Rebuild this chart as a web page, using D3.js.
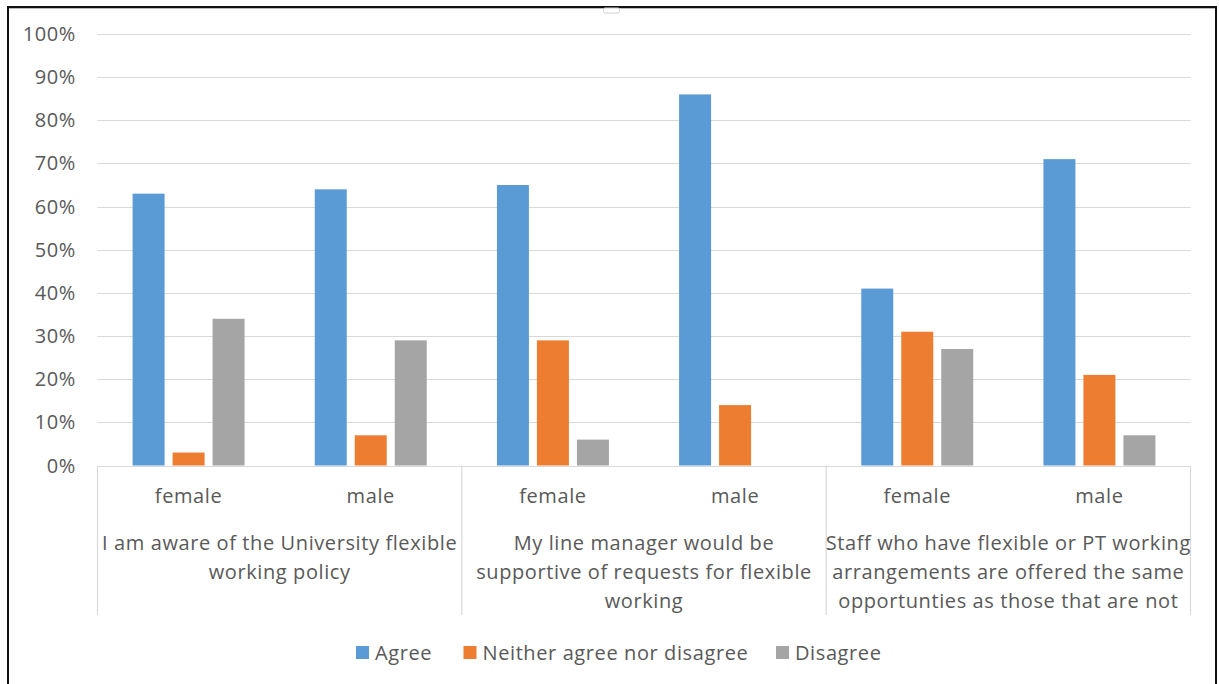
<!DOCTYPE html>
<html>
<head>
<meta charset="utf-8">
<script src="https://cdn.jsdelivr.net/npm/d3@7"></script>
<style>
  html, body { margin: 0; padding: 0; background: #fff; }
  svg { display: block; }
  text { font-family: "Open Sans", "Liberation Sans", sans-serif; fill: #595959; font-size: 20px; letter-spacing: 0.6px; }
</style>
</head>
<body>
<svg id="chart" width="1219" height="684"></svg>
<script>
// ---- data ----
const groups = [
  ["I am aware of the University flexible", "working policy"],
  ["My line manager would be", "supportive of requests for flexible", "working"],
  ["Staff who have flexible or PT working", "arrangements are offered the same", "opportunties as those that are not"]
];
const subcats = ["female", "male"];
const seriesNames = ["Agree", "Neither agree nor disagree", "Disagree"];
const agree    = [63, 64, 65, 86, 41, 71];
const neither  = [3, 7, 29, 14, 31, 21];
const disagree = [34, 29, 6, 0, 27, 7];
const yTicks = [0, 10, 20, 30, 40, 50, 60, 70, 80, 90, 100];
const colors = ["#5B9BD5", "#ED7D31", "#A5A5A5"];

const seriesValues = [agree, neither, disagree];
const cats = [];
groups.forEach((g, gi) => subcats.forEach((s, si) => cats.push({ id: gi * 2 + si, group: gi, sub: s })));

// ---- layout ----
const svg = d3.select("#chart");
const plot = { left: 97.5, right: 1190.5, top: 34, bottom: 465.5 };

const y = d3.scaleLinear().domain([0, 100]).range([plot.bottom, plot.top]);
const x0 = d3.scaleBand().domain(cats.map(c => c.id)).range([plot.left, plot.right]).paddingInner(0).paddingOuter(0);
const x1 = d3.scaleBand().domain(d3.range(seriesNames.length)).range([0, x0.bandwidth()])
  .paddingInner(0.2).paddingOuter(0.8775);
const xg = d3.scaleBand().domain(d3.range(groups.length)).range([plot.left, plot.right]).padding(0);

// outer frame
svg.append("line").attr("x1", 7).attr("x2", 1217).attr("y1", 7).attr("y2", 7).attr("stroke", "#111").attr("stroke-width", 2);
svg.append("line").attr("x1", 8).attr("x2", 8).attr("y1", 6).attr("y2", 684).attr("stroke", "#111").attr("stroke-width", 2);
svg.append("line").attr("x1", 1216).attr("x2", 1216).attr("y1", 6).attr("y2", 684).attr("stroke", "#111").attr("stroke-width", 2);
svg.append("line").attr("x1", 9).attr("x2", 1215).attr("y1", 8.5).attr("y2", 8.5).attr("stroke", "#bbb").attr("stroke-width", 1);
svg.append("rect").attr("x", 603.5).attr("y", 8).attr("width", 16).attr("height", 5).attr("rx", 1.5)
  .attr("fill", "#fff").attr("stroke", "#d0d0d0");

// gridlines + y labels
const yAxis = svg.append("g");
yAxis.selectAll("line.grid").data(yTicks).join("line")
  .attr("class", "grid")
  .attr("x1", plot.left).attr("x2", plot.right)
  .attr("y1", d => Math.round(y(d)) + 0.5).attr("y2", d => Math.round(y(d)) + 0.5)
  .attr("stroke", "#D9D9D9").attr("stroke-width", 1.2);
yAxis.selectAll("text").data(yTicks).join("text")
  .attr("x", 76).attr("y", d => y(d))
  .attr("dy", "0.35em").attr("text-anchor", "end")
  .text(d => d + "%");

// bars
const bars = svg.append("g");
seriesValues.forEach((vals, si) => {
  bars.selectAll("rect.s" + si).data(cats).join("rect")
    .attr("class", "s" + si)
    .attr("x", c => x0(c.id) + x1(si))
    .attr("width", x1.bandwidth())
    .attr("y", c => y(vals[c.id]))
    .attr("height", c => y(0) - y(vals[c.id]))
    .attr("fill", colors[si])
    .attr("display", c => vals[c.id] > 0 ? null : "none");
});

// category axis: verticals
const divs = [plot.left].concat(d3.range(groups.length).map(g => xg(g) + xg.bandwidth()));
svg.append("g").selectAll("line").data(divs).join("line")
  .attr("x1", d => d).attr("x2", d => d)
  .attr("y1", plot.bottom).attr("y2", 615)
  .attr("stroke", "#D9D9D9").attr("stroke-width", 1.2);
svg.append("line").attr("x1", plot.left).attr("x2", plot.right)
  .attr("y1", Math.round(y(0)) + 0.5).attr("y2", Math.round(y(0)) + 0.5)
  .attr("stroke", "#D9D9D9").attr("stroke-width", 1.2);

// sub category labels
svg.append("g").selectAll("text").data(cats).join("text")
  .attr("x", c => x0(c.id) + x0.bandwidth() / 2)
  .attr("y", 503)
  .attr("text-anchor", "middle")
  .text(c => c.sub);

// group labels
const gl = svg.append("g");
groups.forEach((lines, gi) => {
  gl.append("text")
    .attr("x", xg(gi) + xg.bandwidth() / 2)
    .attr("y", 550)
    .attr("text-anchor", "middle")
    .selectAll("tspan").data(lines).join("tspan")
    .attr("x", xg(gi) + xg.bandwidth() / 2)
    .attr("y", (d, i) => 550 + i * 29)
    .text(d => d);
});

// legend
const legendX = [356, 463.5, 776];
const lg = svg.append("g");
seriesNames.forEach((name, i) => {
  lg.append("rect").attr("x", legendX[i]).attr("y", 646).attr("width", 13).attr("height", 13).attr("fill", colors[i]);
  lg.append("text").attr("x", legendX[i] + 19).attr("y", 652.5).attr("dy", "0.35em")
    .text(name);
});
</script>
</body>
</html>
